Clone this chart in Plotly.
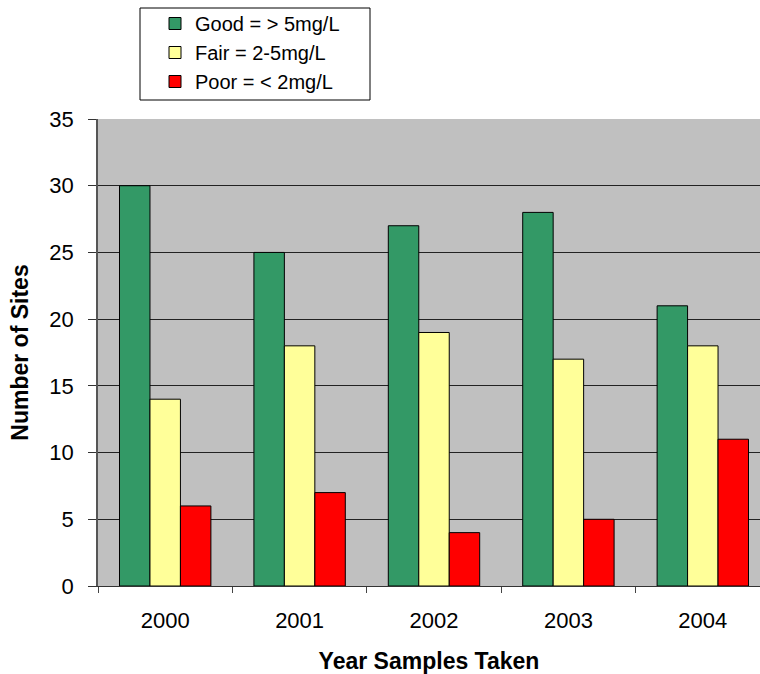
import plotly.graph_objects as go

years = ["2000", "2001", "2002", "2003", "2004"]
good = [30, 25, 27, 28, 21]
fair = [14, 18, 19, 17, 18]
poor = [6, 7, 4, 5, 11]

series_names = ["Good = > 5mg/L", "Fair = 2-5mg/L", "Poor = < 2mg/L"]
series_colors = ["#339966", "#FFFF99", "#FF0000"]

fig = go.Figure()
for name, vals, col in zip(series_names, [good, fair, poor], series_colors):
    fig.add_trace(go.Bar(
        x=years, y=vals, name=name,
        marker=dict(color=col, line=dict(color="black", width=1)),
    ))

W, H = 760, 674
ml, mr, mt, mb = 98, 0, 119, 88
pw, ph = W - ml - mr, H - mt - mb


def px_x(p):
    return (p - ml) / pw


def px_y(p):
    return (H - mb - p) / ph


# plot area in reference extends beyond right edge (to ~770px); clip range accordingly
cat_px = 134.3
right_x = 4.5 - (770 - 760) / cat_px

fig.update_layout(
    width=W, height=H,
    margin=dict(l=ml, r=mr, t=mt, b=mb, pad=0),
    barmode="group",
    bargap=0.32,
    bargroupgap=0,
    plot_bgcolor="#C0C0C0",
    paper_bgcolor="white",
    font=dict(family="Liberation Sans, Arial, sans-serif", size=22, color="black"),
    showlegend=True,
    legend=dict(
        x=px_x(155), y=px_y(4),
        xanchor="left", yanchor="top",
        bgcolor="rgba(0,0,0,0)", borderwidth=0,
        font=dict(size=20),
        itemwidth=30,
    ),
    shapes=[dict(
        type="rect", xref="paper", yref="paper",
        x0=px_x(140), x1=px_x(370), y0=px_y(100), y1=px_y(8),
        line=dict(color="black", width=1), fillcolor="white", layer="above",
    )],
    xaxis=dict(
        type="category",
        range=[-0.5, right_x],
        showline=True, linecolor="#333333", linewidth=1,
        ticks="outside", ticklen=6, tickcolor="#444444",
        tickson="boundaries",
        showgrid=False,
        tickfont=dict(size=22),
        ticklabelstandoff=15,
        title=dict(text="<b>Year Samples Taken</b>", font=dict(size=23), standoff=20),
    ),
    yaxis=dict(
        range=[0, 35], dtick=5,
        showline=True, linecolor="#555555", linewidth=1.5,
        ticks="outside", ticklen=8, tickcolor="#333333",
        showgrid=True, gridcolor="#222222", gridwidth=1,
        zeroline=False,
        tickfont=dict(size=22),
        ticklabelstandoff=10,
        title=dict(text="<b>Number of Sites</b>", font=dict(size=23), standoff=14),
    ),
)

fig.write_html("out.html")
